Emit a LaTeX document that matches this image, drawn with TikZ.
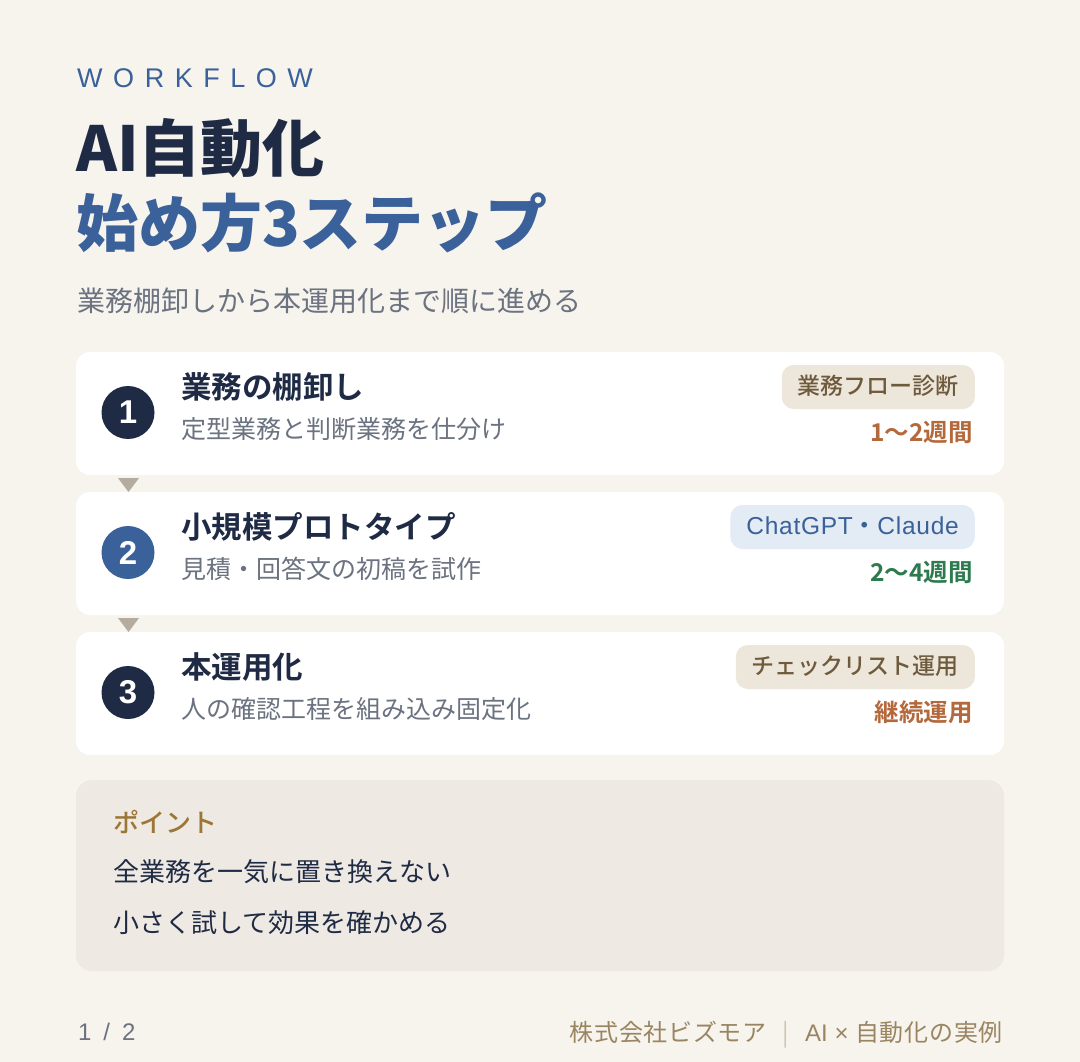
\documentclass[tikz,border=0pt]{standalone}
\usepackage{fontspec}
\setmainfont{Noto Sans CJK JP}[BoldFont=* Bold]
\newfontfamily\heavy{Noto Sans CJK JP}[UprightFont=* Black]
\newfontfamily\medium{Noto Sans CJK JP}[UprightFont=* Medium]
\newfontfamily\latin{Liberation Sans}
\definecolor{MyBg}{HTML}{F7F4EE}
\definecolor{MyNavy}{HTML}{1F2A44}
\definecolor{MyBlue}{HTML}{3A6199}
\definecolor{MyGray}{HTML}{6B7280}
\definecolor{MyTri}{HTML}{B3AC9F}
\definecolor{MyTagBeige}{HTML}{EDE6DA}
\definecolor{MyTagBrown}{HTML}{6E5A3C}
\definecolor{MyTagBlue}{HTML}{E3EBF4}
\definecolor{MyOrange}{HTML}{B4693C}
\definecolor{MyGreen}{HTML}{2D7A4F}
\definecolor{MyPointBg}{HTML}{EEEAE3}
\definecolor{MyGold}{HTML}{9C7636}
\definecolor{MyFoot}{HTML}{9A8562}
\definecolor{MyBar}{HTML}{CFC3AE}
\newcommand{\fsz}[1]{\fontsize{#1}{#1}\selectfont}
\tikzset{
	card/.style={fill=white, rounded corners=14pt, minimum width=928pt, minimum height=123pt, inner sep=0pt},
	stepnum/.style={circle, minimum size=53pt, inner sep=0pt, text=white, font=\fsz{33}\latin\bfseries},
	steptitle/.style={anchor=base west, inner sep=0pt, text=MyNavy, font=\fsz{30.5}\bfseries},
	stepsub/.style={anchor=base west, inner sep=0pt, text=MyGray, font=\fsz{25}},
	tag/.style={anchor=east, rounded corners=12pt, minimum height=44pt, inner xsep=16pt, inner ysep=0pt, text height=16.5pt, text depth=2pt, font=\fsz{23}\medium},
	duration/.style={anchor=base east, inner sep=0pt, font=\fsz{24.5}\bfseries},
	pointtext/.style={anchor=base west, inner sep=0pt, text=MyNavy, font=\fsz{26}}
}

\begin{document}
\begin{tikzpicture}[x=1pt, y=-1pt]
		\useasboundingbox (0,0) rectangle (1080,1062);
		\fill[MyBg] (0,0) rectangle (1080,1062);
		
		% heading
		\node[anchor=base west, inner sep=0pt, text=MyBlue, font=\fsz{27}\latin\addfontfeature{LetterSpace=39}] (kicker) at (77, 88) {WORKFLOW};
		\node[anchor=base west, inner sep=0pt, text=MyNavy, font=\fsz{62}\heavy] (title1) at (76, 172) {AI自動化};
		\node[anchor=base west, inner sep=0pt, text=MyBlue, font=\fsz{62}\heavy] (title2) at (76, 247) {始め方3ステップ};
		\node[anchor=base west, inner sep=0pt, text=MyGray, font=\fsz{28}] (lead) at (77, 311) {業務棚卸しから本運用化まで順に進める};
		
		% step cards
		\node[card] (card1) at (540, 413.5) {};
		\node[card] (card2) at (540, 553.5) {};
		\node[card] (card3) at (540, 693.5) {};
		
		\fill[MyTri] (118, 478) -- (139, 478) -- (128.5, 492) -- cycle;
		\fill[MyTri] (118, 618) -- (139, 618) -- (128.5, 632) -- cycle;
		
		% step 1
		\node[stepnum, fill=MyNavy] (num1) at (128, 412.5) {1};
		\node[steptitle] (ttl1) at (181, 398) {業務の棚卸し};
		\node[stepsub] (sub1) at (181, 438) {定型業務と判断業務を仕分け};
		\node[tag, fill=MyTagBeige, text=MyTagBrown] (tag1) at (975, 387) {業務フロー診断};
		\node[duration, text=MyOrange] (dur1) at (973, 441) {1〜2週間};
		
		% step 2
		\node[stepnum, fill=MyBlue] (num2) at (128, 552.5) {2};
		\node[steptitle] (ttl2) at (181, 538) {小規模プロトタイプ};
		\node[stepsub] (sub2) at (181, 578) {見積・回答文の初稿を試作};
		\node[tag, fill=MyTagBlue, text=MyBlue, font=\fsz{24.5}\medium] (tag2) at (975, 527) {{\latin\addfontfeature{LetterSpace=3}ChatGPT}・{\latin\addfontfeature{LetterSpace=3}Claude}};
		\node[duration, text=MyGreen] (dur2) at (973, 581) {2〜4週間};
		
		% step 3
		\node[stepnum, fill=MyNavy] (num3) at (128, 692.5) {3};
		\node[steptitle] (ttl3) at (181, 678) {本運用化};
		\node[stepsub] (sub3) at (181, 718) {人の確認工程を組み込み固定化};
		\node[tag, fill=MyTagBeige, text=MyTagBrown] (tag3) at (975, 667) {チェックリスト運用};
		\node[duration, text=MyOrange] (dur3) at (973, 721) {継続運用};
		
		% point box
		\fill[MyPointBg, rounded corners=16pt] (76, 780) rectangle (1004, 971);
		\node[anchor=base west, inner sep=0pt, text=MyGold, font=\fsz{26}\medium] (point) at (113, 832) {ポイント};
		\node[pointtext] (point1) at (113, 881) {全業務を一気に置き換えない};
		\node[pointtext] (point2) at (113, 932) {小さく試して効果を確かめる};
		
		% footer
		\node[anchor=base west, inner sep=0pt, text=MyGray, font=\fsz{24}\latin\addfontfeature{LetterSpace=22}] (page) at (78, 1040) {1 / 2};
		\node[anchor=base east, inner sep=0pt, text=MyFoot, font=\fsz{24}\addfontfeature{LetterSpace=3}] (credit) at (1003, 1041) {株式会社ビズモア\hspace{16pt}\textcolor{MyBar}{|}\hspace{16pt}{\latin AI × }自動化の実例};
		
	\end{tikzpicture}
\end{document}
